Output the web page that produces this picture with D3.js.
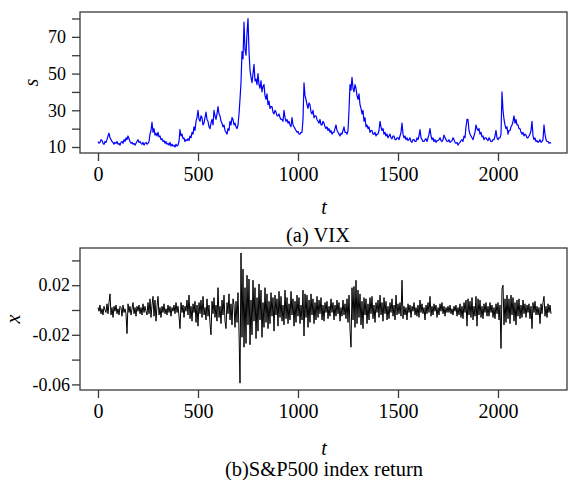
<!DOCTYPE html>
<html>
<head>
<meta charset="utf-8">
<script src="https://cdn.jsdelivr.net/npm/d3@7"></script>
<style>
  body { margin: 0; background: #fff; }
  svg, svg text { font-family: "Liberation Serif", "Times New Roman", serif; }
  svg { display: block; }
</style>
</head>
<body>
<div id="chart"></div>
<script>
// Data: VIX level and index return, one value every 5 days

const vixStep = 5;
const vixValues = [
  13, 12, 12.5, 14, 13.5, 12, 11.5, 13, 12.5, 14,
  16, 17.5, 15, 14, 13, 12.5, 11.5, 12.5, 12, 13,
  11.5, 12, 11, 12.5, 13, 12, 14, 13, 15, 14,
  16, 14.5, 13, 12, 12.5, 11.5, 12, 11, 12, 13,
  14, 12.5, 13, 12, 11.5, 12.5, 11, 12, 12.5, 11.5,
  12, 13, 17, 19, 23.5, 18, 20, 16.5, 17.5, 16,
  18, 15.5, 16, 14, 14.5, 13, 13.5, 12, 13, 11.5,
  12, 11, 12.5, 10.5, 11.5, 10.5, 11, 10, 11.5, 10.5,
  11, 13, 19.5, 16, 17, 14.5, 15, 13, 14, 13.5,
  14.5, 13.5, 16, 15, 18, 17, 21, 19, 24, 26,
  30, 25, 24, 27, 26, 22, 23, 26, 29, 25,
  24, 21, 20, 23, 25, 22, 30, 27, 25, 28,
  32, 28, 27, 24, 23, 21, 22, 19, 18, 17,
  20, 19, 24, 22, 26, 25, 22, 23, 21, 20,
  22, 28, 36, 45, 62, 58, 78, 63, 60, 72,
  80, 62, 52, 48, 45, 50, 55, 46, 47, 44,
  50, 44, 42, 46, 40, 43, 44, 38, 36, 39,
  33, 35, 31, 32, 32, 29, 28, 30, 29, 27,
  27, 28, 26, 25, 25, 24, 30, 26, 24, 25,
  23, 24, 22, 21, 26, 22, 21, 20, 19, 18,
  18.5, 17, 17, 18, 18, 25, 45, 38, 36, 33,
  31, 34, 33, 29, 28, 30, 26, 27, 27, 25,
  24, 23, 25, 22, 22, 24, 23, 21, 20, 21,
  19, 20, 18, 19, 17, 18, 18, 20, 22, 19,
  18, 17, 16, 17.5, 17, 19, 21, 18, 18, 17,
  19, 30, 44, 41, 48, 42, 40, 44, 42, 38,
  36, 39, 33, 31, 28, 30, 24, 26, 21, 22,
  20, 21, 18, 19, 19, 17, 17, 18, 16, 17,
  17, 19, 24, 21, 19, 20, 17, 18, 16, 17,
  15, 16, 17, 15, 14.5, 16, 16, 14, 14, 15,
  15, 14, 16, 18, 23, 17, 15, 16, 14, 15,
  13.5, 14, 15, 13, 12.5, 14, 14, 13, 13, 15,
  14, 16, 19.5, 15, 14, 13, 13, 14, 14.5, 13,
  15, 17, 20, 16, 14, 15, 13, 14, 12.5, 13.5,
  13.5, 14, 15, 13.5, 13, 14, 16.5, 15, 14, 13,
  13, 14, 12.5, 13, 13.5, 15, 14, 12.5, 12, 12.5,
  11, 12, 12.5, 13.5, 14, 13, 16, 15, 21, 25,
  25, 19, 17, 16, 15, 14, 16, 18, 22, 20,
  19, 20, 17, 18, 15.5, 16, 14, 15, 15, 14,
  13.5, 15, 14, 13, 13, 14, 14, 16, 19, 15,
  14, 15, 15, 17, 40, 30, 25, 22, 20, 21,
  17, 19, 19, 21, 22, 24, 27, 23, 25, 22,
  22, 20, 20, 18, 17, 18, 16, 17, 16.5, 15,
  15, 16, 17, 19, 24, 16, 14, 15, 13, 13.5,
  12.5, 13, 14, 12.5, 13, 14, 22, 17, 14, 13,
  13, 12, 12.5, 12
];

const retStep = 5;
const retValues = [
  .002, -.001, .004, -.003, .001, -.004, .003, .000, -.002, .005,
  -.003, .006, .013, -.004, .002, -.006, .003, -.001, .004, -.003,
  .001, -.004, .003, .002, -.005, .004, -.002, .001, -.003, -.019,
  .005, -.002, .003, -.004, .001, .006, -.003, .002, -.005, .003,
  -.001, .004, -.003, .002, -.004, .005, -.002, .003, -.001, -.004,
  .006, -.003, .009, -.006, .004, .011, -.005, .008, -.009, .003,
  .011, -.004, .002, -.006, .003, -.002, .005, -.003, .001, -.004,
  .004, -.002, .003, -.005, .002, -.001, .004, -.003, .006, -.002,
  .003, -.005, -.015, .006, -.002, .004, -.006, .003, -.001, .008,
  -.004, .012, -.007, .003, -.009, .005, -.002, .007, -.010, .004,
  -.013, .006, -.003, .008, -.006, .011, -.004, .002, -.008, .009,
  -.005, .004, -.011, -.020, .007, -.003, .010, -.006, .004, -.009,
  .018, -.006, .003, -.011, .008, -.004, .012, -.009, -.015, .006,
  -.003, .013, -.008, .005, -.012, .009, .004, -.014, .007, -.010,
  .014, -.018, -.059, .046, -.022, .033, -.030, .018, -.027, .028,
  -.012, .025, -.028, .008, -.020, .024, -.009, .018, -.023, .010,
  -.017, .021, -.008, .016, -.022, .006, -.014, .018, -.010, .013,
  -.015, .007, -.011, .014, -.005, .010, -.017, .012, -.004, .009,
  -.013, .015, -.006, .011, -.009, .004, -.012, .016, -.007, .010,
  -.011, .005, -.008, .015, -.004, .009, -.013, .007, -.010, .012,
  -.005, .010, -.011, .004, -.008, .016, -.021, .013, -.006, .012,
  -.014, .008, -.010, .013, -.004, .009, -.011, .006, -.008, .011,
  -.006, .008, -.003, .010, -.008, .004, -.009, .006, -.002, .007,
  -.007, .003, -.005, .009, -.002, .006, -.008, .004, -.005, .008,
  -.003, .006, -.009, .002, -.005, .008, -.004, .005, -.007, .009,
  -.010, .012, -.016, -.030, .018, -.008, .019, -.014, .024, -.011,
  .016, -.006, .013, -.012, .007, -.015, .010, -.004, .009, -.011,
  .005, -.008, .010, -.003, .011, -.007, .004, -.010, .006, -.002,
  .008, -.006, .012, -.004, .006, -.009, .010, -.003, .007, -.008,
  .003, -.007, .006, -.002, .009, -.005, .004, -.008, .012, -.004,
  .005, -.003, .006, -.005, .024, -.007, .003, -.004, .002, -.008,
  .005, -.002, .004, -.006, .003, -.001, .006, -.004, .002, -.005,
  .004, -.006, .008, -.002, .005, -.003, .002, -.008, .004, -.003,
  .006, -.002, .011, -.005, .003, -.004, .005, -.001, .004, -.006,
  .002, -.004, .005, -.001, .006, -.003, .003, -.005, .002, -.002,
  .003, -.002, .004, -.003, .001, -.004, .003, -.001, .004, -.005,
  .002, -.004, .005, -.006, .003, -.007, .006, -.002, .008, -.013,
  .009, -.004, .007, -.006, .010, -.008, .003, -.005, .011, -.013,
  .009, -.004, .008, -.006, .003, -.007, .005, -.002, .006, -.005,
  .003, -.005, .006, -.002, .004, -.006, .002, -.007, .005, -.003,
  .006, -.008, .004, -.031, .017, .020, -.012, .009, -.010, .012,
  -.007, .009, -.011, .012, -.004, .010, -.009, .006, -.012, .008,
  -.005, .009, -.007, .004, -.006, .008, -.003, .005, -.006, .004,
  -.002, .005, -.007, .003, -.015, .006, -.002, .007, -.004, .003,
  -.004, .002, -.011, .005, -.003, .006, .011, -.005, .003, -.006,
  .005, -.002, .004, -.003
];

const tTicks = [0, 500, 1000, 1500, 2000];
const vixTicks = [10, 20, 30, 40, 50, 60, 70, 80];
const vixTickLabels = [10, 30, 50, 70];
const retTicks = [0.04, 0.02, 0, -0.02, -0.04, -0.06];
const retTickLabels = [0.02, -0.02, -0.06];

const WIDTH = 568;
const HEIGHT = 480;
const AXIS_COLOR = "#3a3a3a";
const SERIF = "Liberation Serif, Times New Roman, serif";

const svg = d3
  .select("#chart")
  .append("svg")
  .attr("width", WIDTH)
  .attr("height", HEIGHT);

// shared time axis
const xScale = d3.scaleLinear([0, 2000], [98, 498]);

/**
 * Draw one framed panel with its series
 * @param {Object} cfg - panel settings
 */
function drawPanel(cfg) {
  const { box, yScale, values, step } = cfg;

  const g = svg.append("g");

  // frame
  g.append("rect")
    .attr("x", box.x0)
    .attr("y", box.y0)
    .attr("width", box.x1 - box.x0)
    .attr("height", box.y1 - box.y0)
    .attr("fill", "none")
    .attr("stroke", AXIS_COLOR)
    .attr("stroke-width", 1.3);

  // series
  const points = values.map((v, i) => ({ t: i * step, v: v }));
  g.append("path")
    .datum(points)
    .attr("fill", "none")
    .attr("stroke", cfg.color)
    .attr("stroke-width", cfg.lineWidth)
    .attr("stroke-linejoin", "round")
    .attr(
      "d",
      d3
        .line()
        .x((d) => xScale(d.t))
        .y((d) => yScale(d.v))
    );

  // x axis
  const xAxis = g
    .append("g")
    .attr("transform", `translate(0,${box.y1})`)
    .call(
      d3
        .axisBottom(xScale)
        .tickValues(tTicks)
        .tickSize(8)
        .tickSizeOuter(0)
        .tickPadding(6)
        .tickFormat((d) => String(d))
    );

  // y axis
  const yAxis = g
    .append("g")
    .attr("transform", `translate(${box.x0},0)`)
    .call(
      d3
        .axisLeft(yScale)
        .tickValues(cfg.ticks)
        .tickSize(8)
        .tickSizeOuter(0)
        .tickPadding(cfg.yPad)
        .tickFormat((d) => (cfg.tickLabels.includes(d) ? String(d) : ""))
    );

  [xAxis, yAxis].forEach((ax) => {
    ax.attr("font-family", SERIF);
    ax.select(".domain").remove();
    ax.selectAll(".tick line")
      .attr("stroke", AXIS_COLOR)
      .attr("stroke-width", 1.3);
    ax.selectAll(".tick text")
      .attr("fill", "#000")
      .attr("font-family", SERIF);
  });
  xAxis.attr("font-size", 20);
  yAxis.attr("font-size", 18);

  // axis titles
  g.append("text")
    .attr("x", 324)
    .attr("y", cfg.tTitleY)
    .attr("text-anchor", "middle")
    .style("font-size", "20px")
    .style("font-style", "italic")
    .text("t");

  g.append("text")
    .attr("text-anchor", "middle")
    .attr("transform", `translate(${cfg.yTitleX},${(box.y0 + box.y1) / 2}) rotate(-90)`)
    .style("font-size", "20px")
    .style("font-style", "italic")
    .text(cfg.yTitle);

  // caption
  g.append("text")
    .attr("x", cfg.captionX)
    .attr("y", cfg.captionY)
    .attr("text-anchor", "middle")
    .style("font-size", "20.5px")
    .text(cfg.caption);
}

drawPanel({
  box: { x0: 80, x1: 567, y0: 12, y1: 153 },
  yScale: d3.scaleLinear([10, 80], [147, 18.5]),
  values: vixValues,
  step: vixStep,
  color: "#0000ff",
  lineWidth: 1.2,
  ticks: vixTicks,
  tickLabels: vixTickLabels,
  yPad: 6,
  yTitle: "s",
  yTitleX: 38,
  tTitleY: 214,
  caption: "(a) VIX",
  captionX: 318,
  captionY: 242,
});

drawPanel({
  box: { x0: 80, x1: 567, y0: 248, y1: 390 },
  yScale: d3.scaleLinear([-0.06, 0.02], [384.4, 285.2]),
  values: retValues,
  step: retStep,
  color: "#000000",
  lineWidth: 1,
  ticks: retTicks,
  tickLabels: retTickLabels,
  yPad: 2,
  yTitle: "x",
  yTitleX: 20,
  tTitleY: 455,
  caption: "(b)S&P500 index return",
  captionX: 324,
  captionY: 476,
});
</script>
</body>
</html>
